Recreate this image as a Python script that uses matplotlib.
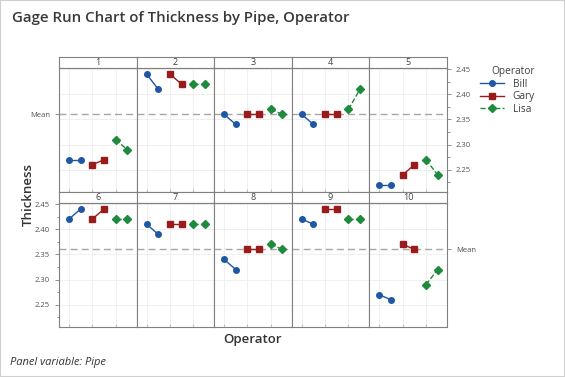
import matplotlib.pyplot as plt
from matplotlib.lines import Line2D
from matplotlib.patches import Rectangle
from matplotlib.ticker import MultipleLocator

plt.rcParams['font.family'] = ['Open Sans', 'DejaVu Sans']

pipes = [1, 2, 3, 4, 5, 6, 7, 8, 9, 10]
operators = ["Bill", "Gary", "Lisa"]
bill = [[2.27, 2.27], [2.44, 2.41], [2.36, 2.34], [2.36, 2.34], [2.22, 2.22],
        [2.42, 2.44], [2.41, 2.39], [2.34, 2.32], [2.42, 2.41], [2.27, 2.26]]
gary = [[2.26, 2.27], [2.44, 2.42], [2.36, 2.36], [2.36, 2.36], [2.24, 2.26],
        [2.42, 2.44], [2.41, 2.41], [2.36, 2.36], [2.44, 2.44], [2.37, 2.36]]
lisa = [[2.31, 2.29], [2.42, 2.42], [2.37, 2.36], [2.37, 2.41], [2.27, 2.24],
        [2.42, 2.42], [2.41, 2.41], [2.37, 2.36], [2.42, 2.42], [2.29, 2.32]]
mean = 2.36
yticks = [2.25, 2.30, 2.35, 2.40, 2.45]

colors = {"Bill": "#1f57a4", "Gary": "#9a1b1b", "Lisa": "#1e8a3c"}
markers = {"Bill": "o", "Gary": "s", "Lisa": "D"}
sizes = {"Bill": 4.0, "Gary": 4.0, "Lisa": 3.6}
styles = {"Bill": "-", "Gary": "-", "Lisa": "--"}
series = {"Bill": bill, "Gary": gary, "Lisa": lisa}

W, H = 565, 377
fig = plt.figure(figsize=(W / 100, H / 100), dpi=100)
fig.patches.append(Rectangle((0, 0), 1, 1, transform=fig.transFigure,
                             fill=False, edgecolor="#d0d0d0", lw=1.5))

axcol = "#808080"
x0, pw = 59, 77.6
rows = [(57, 68, 192), (192, 203, 327)]


def frac(x, y, w, h):
    return [x / W, 1 - (y + h) / H, w / W, h / H]


for k, p in enumerate(pipes):
    r, c = divmod(k, 5)
    st, top, bot = rows[r]
    left = x0 + c * pw
    # strip
    sa = fig.add_axes(frac(left, st, pw, top - st))
    sa.set_xticks([])
    sa.set_yticks([])
    for s in sa.spines.values():
        s.set_color(axcol)
    sa.text(0.5, 0.5, str(p), ha="center", va="center", fontsize=6.5,
            color="#404040", transform=sa.transAxes)

    ax = fig.add_axes(frac(left, top, pw, bot - top))
    ax.set_xlim(0.15, 6.8)
    ax.set_ylim(2.206, 2.452)
    for s in ax.spines.values():
        s.set_color(axcol)
    for yv in yticks:
        ax.axhline(yv, color="#ececec", lw=0.6, zorder=0)
    for xv in [1, 3, 5]:
        ax.axvline(xv, color="#ececec", lw=0.6, zorder=0)
    ax.axhline(mean, color="#a6a6a6", lw=1.0, ls=(0, (5, 3)), zorder=1)

    for j, op in enumerate(operators):
        xs = [2 * j + 1, 2 * j + 2]
        ax.plot(xs, series[op][k], color=colors[op], ls=styles[op], lw=1,
                marker=markers[op], ms=sizes[op], zorder=3)

    ax.set_xticks([1, 3, 5])
    ax.tick_params(axis="x", direction="in", length=2.5, color="#c0c0c0",
                   labelbottom=False)
    ax.set_yticks([])
    ax.tick_params(axis="y", colors="#505050", labelsize=5.5, length=3,
                   width=0.6)

    if r == 0 and c == 0:
        ax.set_yticks([mean])
        ax.set_yticklabels(["Mean"])
    if r == 0 and c == 4:
        ax.yaxis.tick_right()
        ax.set_yticks(yticks)
        ax.set_yticklabels([f"{v:.2f}" for v in yticks])
        ax.yaxis.set_minor_locator(MultipleLocator(0.025))
        ax.tick_params(axis="y", which="minor", length=1.8, color=axcol)
    if r == 1 and c == 0:
        ax.set_yticks(yticks)
        ax.set_yticklabels([f"{v:.2f}" for v in yticks])
        ax.yaxis.set_minor_locator(MultipleLocator(0.025))
        ax.tick_params(axis="y", which="minor", length=1.8, color=axcol)
    if r == 1 and c == 4:
        ax.yaxis.tick_right()
        ax.set_yticks([mean])
        ax.set_yticklabels(["Mean"])
    ax.tick_params(axis="y", colors=axcol, labelcolor="#505050")

fig.text(12 / W, 1 - 18 / H, "Gage Run Chart of Thickness by Pipe, Operator",
         fontsize=10.8, fontweight="semibold", color="#3a3a3a", va="center",
         ha="left")
fig.text(253 / W, 1 - 340 / H, "Operator", fontsize=9.5, fontweight="semibold",
         color="#333333", ha="center", va="center")
fig.text(28 / W, 1 - 195 / H, "Thickness", fontsize=9.5, fontweight="semibold",
         color="#333333", ha="center", va="center", rotation=90)
fig.text(10 / W, 1 - 362 / H, "Panel variable: Pipe", fontsize=8,
         style="italic", color="#333333", ha="left", va="center")

handles = [Line2D([], [], color=colors[op], ls=styles[op], lw=1,
                  marker=markers[op], ms=sizes[op]) for op in operators]
leg = fig.legend(handles, operators, title="Operator", loc="upper left",
                 bbox_to_anchor=(475 / W, 1 - 61 / H), frameon=False,
                 fontsize=7.3, title_fontsize=7.3, handlelength=2.4,
                 labelspacing=0.15, borderpad=0, handletextpad=0.8)
leg._legend_box.align = "right"
for t in leg.get_texts():
    t.set_color("#404040")
leg.get_title().set_color("#404040")

fig.savefig("out.png", dpi=100)
